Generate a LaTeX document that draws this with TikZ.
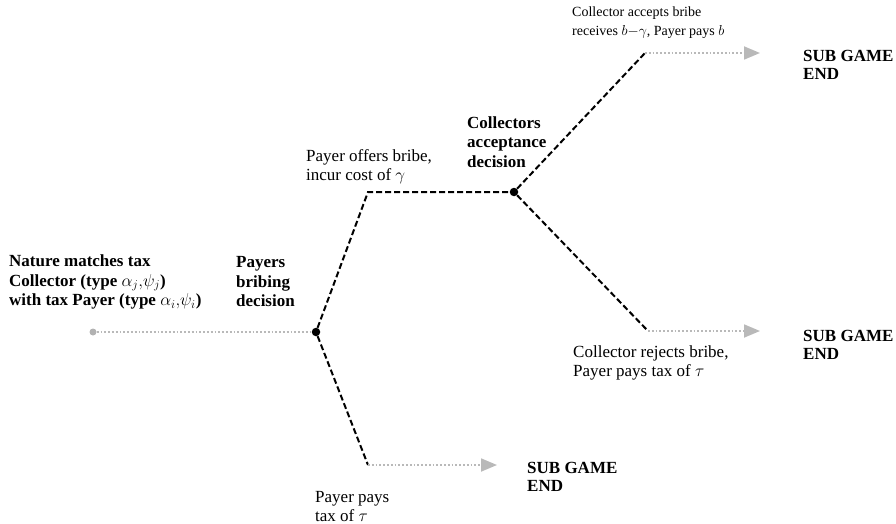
\documentclass[tikz,border=0pt]{standalone}
\usepackage{fontspec}
\setmainfont{Liberation Serif}
\usetikzlibrary{arrows.meta}
\begin{document}
\begin{tikzpicture}[x=1pt,y=-1pt,
  dec/.style={circle,fill=black,inner sep=0pt,minimum size=8.5pt},
  startdot/.style={circle,fill=gray!60,inner sep=0pt,minimum size=7pt},
  choice/.style={draw=black,line width=2pt,dash pattern=on 6pt off 3pt},
  outcome/.style={draw=gray!55,line width=1.8pt,dotted,-{Triangle[length=16pt,width=13pt]}},
  plain/.style={draw=gray!55,line width=1.8pt,dotted},
  lbl/.style={align=left,inner sep=0pt,font=\fontsize{17}{19}\selectfont},
  blbl/.style={align=left,inner sep=0pt,font=\fontsize{17}{19.5}\selectfont\bfseries},
  slbl/.style={align=left,inner sep=0pt,font=\fontsize{14}{19}\selectfont},
  endlbl/.style={align=left,inner sep=0pt,font=\fontsize{17}{18}\selectfont\bfseries}]
\useasboundingbox (0,0) rectangle (896,524);
% points
\node[startdot] (s) at (93,332) {};
\node[dec] (p) at (316,332) {};
\coordinate (up1) at (368,192);
\node[dec] (c) at (514,192) {};
\coordinate (acc) at (645,53);
\coordinate (accE) at (760,53);
\coordinate (rej) at (648,331);
\coordinate (rejE) at (760,331);
\coordinate (pay) at (368,465);
\coordinate (payE) at (497,465);
% connectors
\draw[plain] (s) -- (p);
\draw[choice] (p) -- (up1) -- (c);
\draw[choice] (c) -- (acc);
\draw[choice] (c) -- (rej);
\draw[choice] (p) -- (pay);
\draw[outcome] (acc) -- (accE);
\draw[outcome] (rej) -- (rejE);
\draw[outcome] (pay) -- (payE);
% texts
\node[blbl,anchor=west] (nat) at (9,282) {Nature matches tax\\Collector (type $\alpha_j{,}\psi_j$)\\with tax Payer (type $\alpha_i{,}\psi_i$)};
\node[blbl,anchor=west] (pbd) at (236,282) {Payers\\bribing\\decision};
\node[lbl,anchor=west] (off) at (306,167) {Payer offers bribe,\\incur cost of $\gamma$};
\node[blbl,anchor=west] (cad) at (467,142) {Collectors\\acceptance\\decision};
\node[slbl,anchor=west] (acct) at (572,23) {Collector accepts bribe\\receives $b{-}\gamma$, Payer pays $b$};
\node[endlbl,anchor=west] (e1) at (803,65) {SUB GAME\\END};
\node[endlbl,anchor=west] (e2) at (803,345) {SUB GAME\\END};
\node[lbl,anchor=west] (rejt) at (573,363) {Collector rejects bribe,\\Payer pays tax of $\tau$};
\node[endlbl,anchor=west] (e3) at (527,477) {SUB GAME\\END};
\node[lbl,anchor=west] (payt) at (315,507) {Payer pays\\tax of $\tau$};
\end{tikzpicture}
\end{document}
